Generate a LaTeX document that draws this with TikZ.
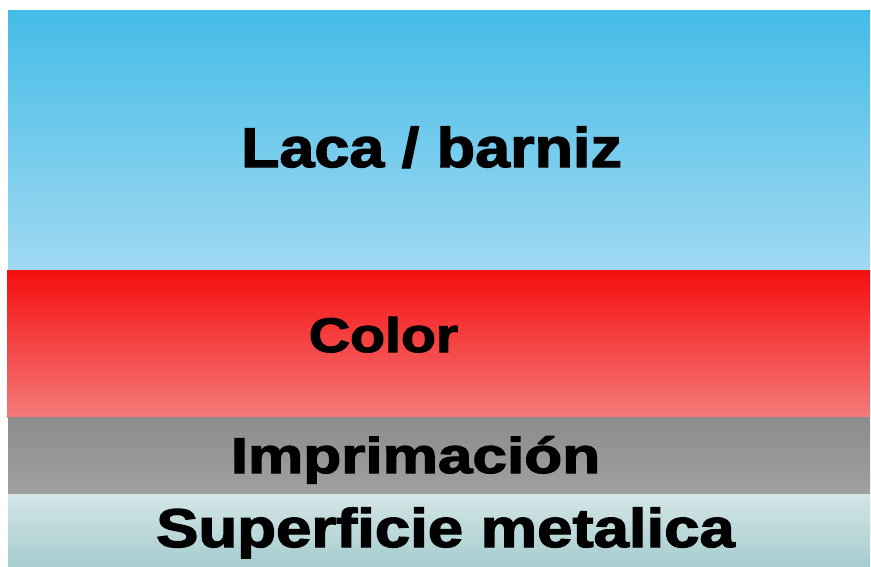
\documentclass[tikz,border=0pt]{standalone}
\usepackage{fontspec}
\setmainfont{Liberation Sans}[BoldFeatures={FakeBold=2.2}]
\usepackage{tikz}
\usetikzlibrary{calc,positioning}

\definecolor{lacatop}{RGB}{68,188,232}
\definecolor{lacabot}{RGB}{160,217,241}
\definecolor{colortop}{RGB}{245,14,14}
\definecolor{colorbot}{RGB}{245,122,122}
\definecolor{imprtop}{RGB}{140,140,140}
\definecolor{imprbot}{RGB}{160,160,160}
\definecolor{suptop}{RGB}{212,229,230}
\definecolor{supbot}{RGB}{166,205,207}

\begin{document}
\begin{tikzpicture}[x=1pt,y=-1pt, layertxt/.style={anchor=base,inner sep=0pt,text=black,transform shape}]
              \useasboundingbox (0,0) rectangle (871,566);

              \shade[top color=lacatop,bottom color=lacabot] (8,10) rectangle (870,270);
              \shade[top color=colortop,bottom color=colorbot] (7,270) rectangle (870,417);
              \shade[top color=imprtop,bottom color=imprbot] (8,417) rectangle (870,494);
              \shade[top color=suptop,bottom color=supbot] (8,494) rectangle (870,566);

              \node[layertxt,xscale=1.125,font=\fontsize{55.9}{60}\selectfont\bfseries] (laca) at (431.5,167) {Laca / barniz};
              \node[layertxt,xscale=1.18,font=\fontsize{48.5}{50}\selectfont\bfseries] (color) at (383.5,352) {Color};
              \node[layertxt,xscale=1.235,font=\fontsize{50.3}{54}\selectfont\bfseries] (impr) at (415.5,473) {Imprimación};
              \node[layertxt,xscale=1.165,font=\fontsize{54.5}{58}\selectfont\bfseries] (sup) at (445.5,547) {Superficie metalica};
            \end{tikzpicture}
\end{document}
